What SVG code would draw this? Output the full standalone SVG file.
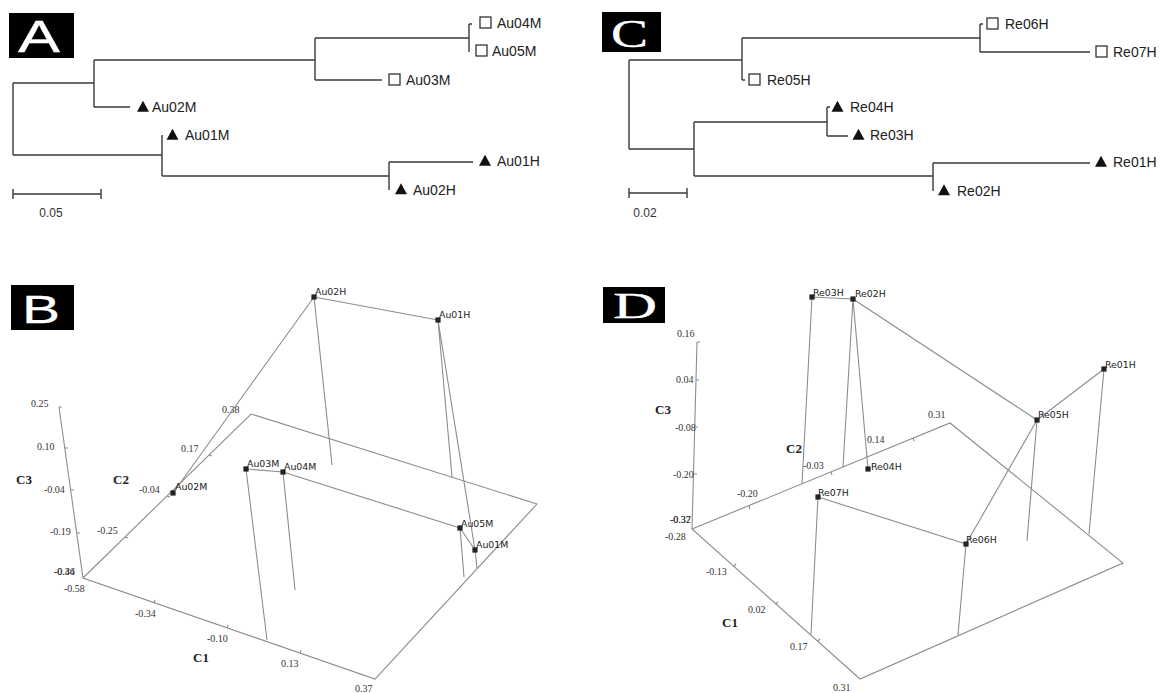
<svg xmlns="http://www.w3.org/2000/svg" width="1163" height="693" viewBox="0 0 1163 693">
<style>
.tree{stroke:#3a3a3a;stroke-width:1.4;fill:none}
.lbl{font-family:"Liberation Sans",Arial,sans-serif;font-size:14px;fill:#222}
.sq{fill:#fff;stroke:#333;stroke-width:1.3}
.tri{fill:#111}
.ax{stroke:#8c8c8c;stroke-width:1.1;fill:none}
.ln{stroke:#8c8c8c;stroke-width:1.1;fill:none}
.tk{font-family:"Liberation Serif","Times New Roman",serif;font-size:10px;fill:#333}
.axn{font-family:"Liberation Serif","Times New Roman",serif;font-size:13px;font-weight:bold;fill:#222}
.pt{fill:#222}
.plbl{font-family:"DejaVu Sans",Verdana,sans-serif;font-size:9.4px;fill:#222}
.box{fill:#000}
.let{fill:#fff;stroke:#fff;stroke-width:0.3}
.scl{font-family:"Liberation Sans",Arial,sans-serif;font-size:12px;fill:#333}
</style>
<defs>
<path id="tri" d="M0,-5.8 L6,5.2 L-6,5.2 Z"/>
<rect id="sq" x="-5.5" y="-5.5" width="11" height="11"/>
<rect id="pt" x="-2.6" y="-2.6" width="5.2" height="5.2"/>
</defs>

<!-- panel letters -->
<g id="labelA"><rect class="box" x="9" y="13" width="65" height="45"/><text class="let" x="18" y="52" font-family="Liberation Sans, Arial, sans-serif" font-size="44" textLength="42" lengthAdjust="spacingAndGlyphs">A</text></g>
<g id="labelB"><rect class="box" x="11" y="285" width="63" height="45"/><text class="let" x="22" y="323" font-family="Liberation Sans, Arial, sans-serif" font-size="39" textLength="38" lengthAdjust="spacingAndGlyphs">B</text></g>
<g id="labelC"><rect class="box" x="602" y="12" width="59" height="40"/><text class="let" x="611" y="47" font-family="Liberation Serif, Times New Roman, serif" font-size="40" textLength="37" lengthAdjust="spacingAndGlyphs">C</text></g>
<g id="labelD"><rect class="box" x="603" y="287" width="62" height="36"/><text class="let" x="613" y="318" font-family="Liberation Serif, Times New Roman, serif" font-size="36" textLength="44" lengthAdjust="spacingAndGlyphs">D</text></g>

<!-- Panel A connectors -->
<g id="connectorsA" class="tree">
<path d="M13,83 V155 M13,83 H94 M94,60 V107 M94,60 H315 M315,38 V80 M315,38 H469 M469,24 V52 M469,24 H472 M315,80 H382 M94,107 H130 M13,155 H162 M162,135 V176 M162,176 H389 M389,162 V190 M389,162 H473"/>
<path d="M13,194 H101 M13,189 V199 M101,189 V199"/>
</g>
<text class="scl" x="51" y="217" text-anchor="middle">0.05</text>
<g id="Au04M_A"><use href="#sq" class="sq" x="485.5" y="22.5"/><text class="lbl" x="497" y="28">Au04M</text></g>
<g id="Au05M_A"><use href="#sq" class="sq" x="481.5" y="50.5"/><text class="lbl" x="492" y="56">Au05M</text></g>
<g id="Au03M_A"><use href="#sq" class="sq" x="394.5" y="79.5"/><text class="lbl" x="406" y="85">Au03M</text></g>
<g id="Au02M_A"><use href="#tri" class="tri" x="143" y="106.5"/><text class="lbl" x="152" y="112">Au02M</text></g>
<g id="Au01M_A"><use href="#tri" class="tri" x="172.5" y="134.5"/><text class="lbl" x="185" y="140">Au01M</text></g>
<g id="Au01H_A"><use href="#tri" class="tri" x="485" y="160.5"/><text class="lbl" x="497" y="166">Au01H</text></g>
<g id="Au02H_A"><use href="#tri" class="tri" x="401" y="189"/><text class="lbl" x="413" y="195">Au02H</text></g>

<!-- Panel C connectors -->
<g id="connectorsC" class="tree">
<path d="M629,60 V149 M629,60 H742 M742,38 V80 M742,38 H980 M980,24 V52 M980,24 H983 M980,52 H1090 M742,80 H745 M629,149 H694 M694,122 V176 M694,122 H827 M827,107 V136 M827,107 H830 M827,136 H848 M694,176 H933 M933,163 V191 M933,163 H1090"/>
<path d="M629,193 H687 M629,188 V198 M687,188 V198"/>
</g>
<text class="scl" x="645" y="217" text-anchor="middle">0.02</text>
<g id="Re06H_C"><use href="#sq" class="sq" x="992.5" y="23.5"/><text class="lbl" x="1005" y="29">Re06H</text></g>
<g id="Re07H_C"><use href="#sq" class="sq" x="1101.5" y="51.5"/><text class="lbl" x="1113" y="57">Re07H</text></g>
<g id="Re05H_C"><use href="#sq" class="sq" x="754.5" y="79.5"/><text class="lbl" x="767" y="85">Re05H</text></g>
<g id="Re04H_C"><use href="#tri" class="tri" x="837.5" y="106.5"/><text class="lbl" x="850" y="112">Re04H</text></g>
<g id="Re03H_C"><use href="#tri" class="tri" x="858.5" y="134.5"/><text class="lbl" x="870" y="140">Re03H</text></g>
<g id="Re01H_C"><use href="#tri" class="tri" x="1101" y="161.5"/><text class="lbl" x="1113" y="167">Re01H</text></g>
<g id="Re02H_C"><use href="#tri" class="tri" x="944" y="190"/><text class="lbl" x="957" y="196">Re02H</text></g>

<!-- Panel B axes -->
<g id="axesB" class="ax">
<path d="M59,407 L83,578 L375,679 L537,504 L251,414 L83,578"/>
<path d="M59,407 h3 M65,448 h3 M71,490 h3 M77,533 h3 M154,603 l1,-3 M227,628 l1,-3 M300,653 l1,-3 M209,455 l3,1 M167,496 l3,1 M125,537 l3,1"/>
</g>
<g id="ticksB">
<text class="tk" x="31" y="407">0.25</text>
<text class="tk" x="37" y="450">0.10</text>
<text class="tk" x="44" y="493">-0.04</text>
<text class="tk" x="50" y="535">-0.19</text>
<text class="tk" x="54" y="575">-0.34</text>
<text class="tk" x="54" y="575">-0.46</text>
<text class="tk" x="64" y="592">-0.58</text>
<text class="tk" x="222" y="413">0.38</text>
<text class="tk" x="181" y="452">0.17</text>
<text class="tk" x="139" y="493">-0.04</text>
<text class="tk" x="97" y="534">-0.25</text>
<text class="tk" x="135" y="617">-0.34</text>
<text class="tk" x="207" y="642">-0.10</text>
<text class="tk" x="281" y="667">0.13</text>
<text class="tk" x="355" y="692">0.37</text>
<text class="axn" x="16" y="484">C3</text>
<text class="axn" x="113" y="484">C2</text>
<text class="axn" x="193" y="662">C1</text>
</g>
<g id="connectorsB" class="ln">
<path d="M173,493 L314,297 M314,297 L438,320 M314,297 L332,465 M438,320 L452,477 M438,320 L475,550 M246,469 L283,472 M246,469 L267,640 M283,472 L295,590 M283,472 L460,528 M460,528 L475,550 M460,528 L464,577 M475,550 L477,568"/>
</g>
<g id="Au02H_B"><use href="#pt" class="pt" x="314" y="297"/><text class="plbl" x="315" y="295">Au02H</text></g>
<g id="Au01H_B"><use href="#pt" class="pt" x="438" y="320"/><text class="plbl" x="439" y="318">Au01H</text></g>
<g id="Au03M_B"><use href="#pt" class="pt" x="246" y="469"/><text class="plbl" x="247" y="467">Au03M</text></g>
<g id="Au04M_B"><use href="#pt" class="pt" x="283" y="472"/><text class="plbl" x="284" y="470">Au04M</text></g>
<g id="Au02M_B"><use href="#pt" class="pt" x="173" y="493"/><text class="plbl" x="175" y="490">Au02M</text></g>
<g id="Au05M_B"><use href="#pt" class="pt" x="460" y="528"/><text class="plbl" x="461" y="527">Au05M</text></g>
<g id="Au01M_B"><use href="#pt" class="pt" x="475" y="550"/><text class="plbl" x="476" y="548">Au01M</text></g>

<!-- Panel D axes -->
<g id="axesD" class="ax">
<path d="M697,342 L692,529 L860,679 L1123,563 L950,423 L692,529"/>
<path d="M697,342 h3 M696,380 h3 M695,427 h3 M694,474 h3 M734,566 l2,-2 M776,604 l2,-2 M818,641 l2,-2 M749,506 l1,3 M831,472 l1,3 M913,438 l1,3"/>
</g>
<g id="ticksD">
<text class="tk" x="677" y="337">0.16</text>
<text class="tk" x="676" y="383">0.04</text>
<text class="tk" x="675" y="431">-0.08</text>
<text class="tk" x="673" y="478">-0.20</text>
<text class="tk" x="670" y="523">-0.32</text>
<text class="tk" x="670" y="523">-0.37</text>
<text class="tk" x="665" y="540">-0.28</text>
<text class="tk" x="706" y="575">-0.13</text>
<text class="tk" x="748" y="613">0.02</text>
<text class="tk" x="790" y="650">0.17</text>
<text class="tk" x="833" y="691">0.31</text>
<text class="tk" x="928" y="418">0.31</text>
<text class="tk" x="867" y="443">0.14</text>
<text class="tk" x="803" y="469">-0.03</text>
<text class="tk" x="737" y="497">-0.20</text>
<text class="axn" x="655" y="414">C3</text>
<text class="axn" x="786" y="453">C2</text>
<text class="axn" x="722" y="627">C1</text>
</g>
<g id="connectorsD" class="ln">
<path d="M812,297 L853,299 M812,297 L802,484 M853,299 L843,467 M853,299 L868,469 M853,299 L1037,420 M1037,420 L1104,369 M1104,369 L1089,534 M1037,420 L1027,541 M1037,420 L966,544 M966,544 L958,635 M966,544 L818,497 M818,497 L811,634"/>
</g>
<g id="Re03H_D"><use href="#pt" class="pt" x="812" y="297"/><text class="plbl" x="813" y="296">Re03H</text></g>
<g id="Re02H_D"><use href="#pt" class="pt" x="853" y="299"/><text class="plbl" x="855" y="297">Re02H</text></g>
<g id="Re05H_D"><use href="#pt" class="pt" x="1037" y="420"/><text class="plbl" x="1038" y="418">Re05H</text></g>
<g id="Re01H_D"><use href="#pt" class="pt" x="1104" y="369"/><text class="plbl" x="1105" y="368">Re01H</text></g>
<g id="Re06H_D"><use href="#pt" class="pt" x="966" y="544"/><text class="plbl" x="966" y="543">Re06H</text></g>
<g id="Re07H_D"><use href="#pt" class="pt" x="818" y="497"/><text class="plbl" x="818" y="496">Re07H</text></g>
<g id="Re04H_D"><use href="#pt" class="pt" x="868" y="469"/><text class="plbl" x="871" y="470">Re04H</text></g>
</svg>
